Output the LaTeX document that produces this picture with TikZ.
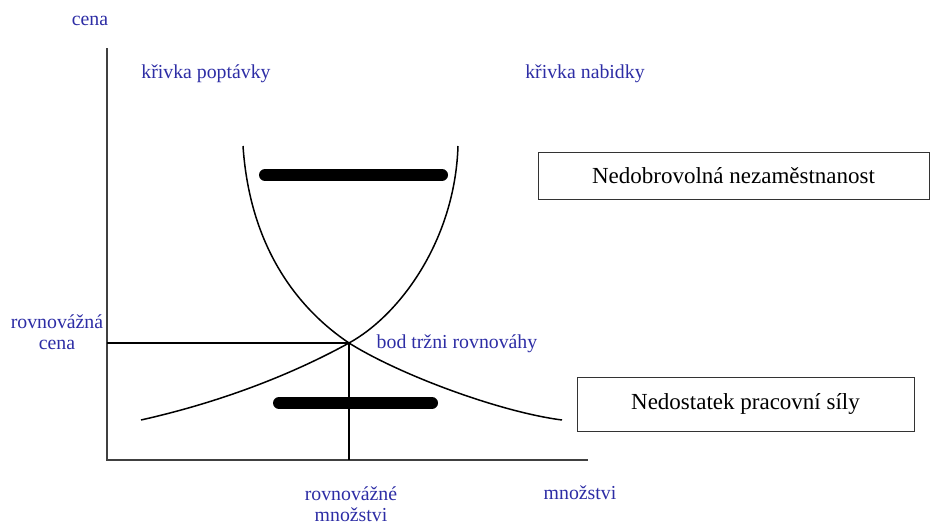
\documentclass[tikz,border=0pt]{standalone}
\usepackage{fontspec}
\setmainfont{Liberation Serif}
\definecolor{lblblue}{RGB}{45,45,165}
\begin{document}
\begin{tikzpicture}[x=1pt, y=-1pt,
    axis/.style={draw=black!75, line width=1.4pt},
    guide/.style={draw=black, line width=1.1pt},
    curve/.style={draw=black, line width=1.5pt},
    bar/.style={draw=black, line width=12pt, line cap=round},
    lbl/.style={text=lblblue, font=\fontsize{19.8}{21}\selectfont, inner sep=0pt, align=center},
    boxlbl/.style={draw=black!80, line width=1pt, font=\fontsize{23}{26}\selectfont, inner sep=0pt}
  ]
  \useasboundingbox (0,0) rectangle (930,522);
  % axes
  \coordinate (O) at (107,460);
  \coordinate (top) at (107,48);
  \coordinate (right) at (588,460);
  \draw[axis] (top) -- (O) -- (right);
  % equilibrium and guides
  \coordinate (E) at (349,343);
  \draw[guide] (E -| O) -- (E) -- (E |- O);
  % demand and supply curves
  \coordinate (dtop) at (243,146);
  \coordinate (dend) at (562,420);
  \coordinate (sstart) at (141,420);
  \coordinate (stop) at (458,146);
  \draw[curve] (dtop) .. controls (250,250) and (300,310) .. (E) .. controls (400,375) and (500,412) .. (dend);
  \draw[curve] (sstart) .. controls (230,400) and (300,370) .. (E) .. controls (400,315) and (455,240) .. (stop);
  % thick bars
  \coordinate (u1) at (265,175);
  \coordinate (u2) at (442,175);
  \coordinate (d1) at (279,403);
  \coordinate (d2) at (432,403);
  \draw[bar] (u1) -- (u2);
  \draw[bar] (d1) -- (d2);
  % labels
  \foreach \name/\pos/\txt in {cena/{90,21}/cena, dem/{206,74}/křivka poptávky, sup/{585,74}/křivka nabidky,
      pc/{57,332}/{rovnovážná\\cena}, eq/{457,344}/bod tržni rovnováhy,
      pq/{351,504}/{rovnovážné\\množstvi}, qty/{580,493}/množstvi} {
    \node[lbl] (\name) at (\pos) {\txt};
  }
  % boxes
  \node[boxlbl, minimum width=391pt, minimum height=47pt] (unemp) at (733.5,176) {Nedobrovolná nezaměstnanost};
  \node[boxlbl, minimum width=337pt, minimum height=54pt] (short) at (745.5,404) {Nedostatek pracovní síly};
\end{tikzpicture}
\end{document}
